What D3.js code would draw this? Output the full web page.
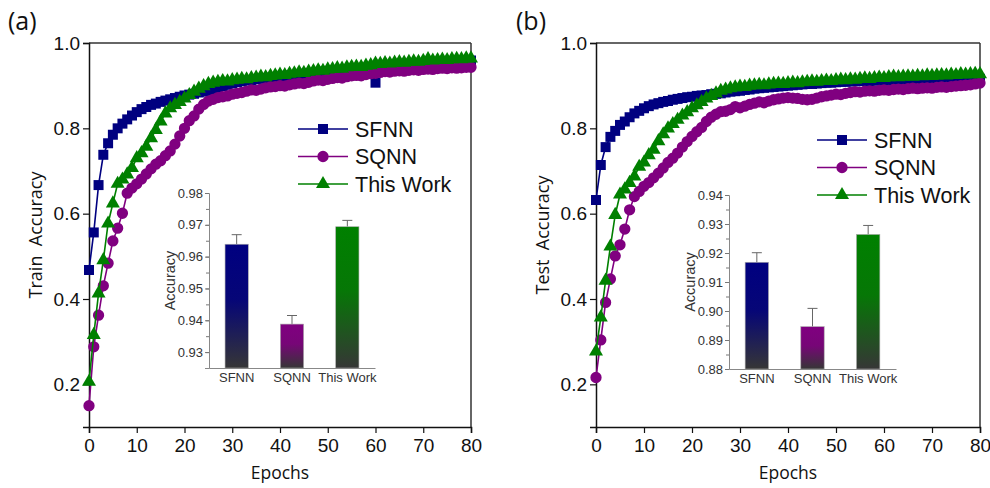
<!DOCTYPE html>
<html><head><meta charset="utf-8">
<script src="https://cdn.jsdelivr.net/npm/d3@7"></script>
<style>
html,body{margin:0;padding:0;background:#fff;}
svg{display:block;font-family:Arial,"Liberation Sans",sans-serif;}
</style></head>
<body>
<svg id="chart" width="990" height="488"></svg>
<script>
// ---------------- DATA ----------------
const epochs = d3.range(0, 81);
const seriesNames = ["SFNN", "SQNN", "This Work"];
const seriesColors = ["#000080", "#800080", "#008000"];
const xTicks = [0, 10, 20, 30, 40, 50, 60, 70, 80];
const yTicks = [0.2, 0.4, 0.6, 0.8, 1.0];

const trainSFNN = [0.468,0.556,0.667,0.738,0.765,0.785,0.800,0.811,0.821,0.830,0.838,0.845,0.850,0.855,0.858,0.862,0.865,0.868,0.871,0.874,0.877,0.879,0.881,0.884,0.886,0.888,0.891,0.895,0.899,0.902,0.905,0.908,0.910,0.912,0.913,0.915,0.916,0.918,0.919,0.920,0.921,0.923,0.924,0.925,0.926,0.928,0.929,0.930,0.931,0.933,0.934,0.935,0.936,0.937,0.938,0.939,0.940,0.941,0.942,0.943,0.907,0.945,0.946,0.947,0.948,0.949,0.950,0.951,0.952,0.952,0.953,0.954,0.955,0.955,0.956,0.957,0.957,0.958,0.958,0.959,0.959];
const trainSQNN = [0.150,0.288,0.362,0.431,0.484,0.536,0.566,0.601,0.648,0.660,0.670,0.681,0.693,0.705,0.716,0.724,0.736,0.747,0.763,0.782,0.800,0.818,0.829,0.845,0.856,0.864,0.868,0.872,0.874,0.876,0.880,0.882,0.884,0.887,0.890,0.889,0.892,0.895,0.897,0.898,0.900,0.899,0.902,0.904,0.906,0.905,0.908,0.911,0.913,0.912,0.915,0.917,0.919,0.918,0.921,0.923,0.924,0.923,0.926,0.928,0.929,0.931,0.933,0.932,0.934,0.935,0.934,0.936,0.937,0.936,0.938,0.939,0.938,0.940,0.941,0.940,0.942,0.941,0.942,0.943,0.943];
const trainOurs = [0.206,0.316,0.413,0.491,0.577,0.624,0.670,0.680,0.692,0.707,0.730,0.742,0.757,0.777,0.796,0.816,0.835,0.847,0.855,0.862,0.870,0.878,0.886,0.893,0.899,0.904,0.907,0.909,0.911,0.910,0.913,0.914,0.916,0.915,0.918,0.919,0.921,0.920,0.923,0.924,0.926,0.925,0.928,0.929,0.931,0.930,0.933,0.934,0.936,0.935,0.938,0.939,0.941,0.940,0.943,0.944,0.945,0.944,0.947,0.948,0.952,0.951,0.953,0.952,0.954,0.955,0.954,0.956,0.957,0.956,0.958,0.962,0.959,0.960,0.961,0.960,0.962,0.963,0.962,0.964,0.964];

const testSFNN = [0.632,0.714,0.756,0.780,0.794,0.808,0.816,0.826,0.835,0.841,0.847,0.852,0.856,0.859,0.862,0.864,0.867,0.869,0.871,0.873,0.874,0.876,0.877,0.878,0.880,0.881,0.882,0.884,0.886,0.887,0.888,0.890,0.891,0.893,0.894,0.895,0.896,0.897,0.898,0.899,0.900,0.901,0.902,0.903,0.904,0.904,0.905,0.906,0.907,0.907,0.908,0.909,0.909,0.910,0.910,0.911,0.911,0.911,0.912,0.912,0.912,0.912,0.913,0.913,0.913,0.913,0.913,0.914,0.914,0.914,0.914,0.914,0.915,0.915,0.915,0.915,0.915,0.915,0.916,0.916,0.916];
const testSQNN = [0.216,0.304,0.392,0.447,0.501,0.527,0.564,0.609,0.640,0.652,0.664,0.673,0.684,0.695,0.707,0.720,0.730,0.742,0.756,0.769,0.781,0.792,0.802,0.816,0.826,0.833,0.839,0.840,0.844,0.851,0.848,0.852,0.856,0.859,0.862,0.860,0.864,0.867,0.869,0.871,0.872,0.871,0.870,0.868,0.867,0.868,0.871,0.874,0.876,0.878,0.880,0.879,0.882,0.884,0.886,0.885,0.887,0.888,0.887,0.889,0.890,0.889,0.891,0.892,0.891,0.893,0.894,0.893,0.894,0.895,0.894,0.896,0.897,0.896,0.898,0.899,0.900,0.901,0.902,0.904,0.906];
const testOurs = [0.277,0.357,0.443,0.523,0.597,0.645,0.657,0.672,0.687,0.710,0.720,0.737,0.750,0.770,0.786,0.800,0.810,0.820,0.830,0.838,0.847,0.854,0.862,0.870,0.876,0.882,0.888,0.891,0.894,0.896,0.898,0.897,0.900,0.901,0.902,0.901,0.903,0.904,0.905,0.904,0.906,0.907,0.906,0.908,0.909,0.910,0.909,0.911,0.912,0.911,0.913,0.914,0.913,0.915,0.914,0.916,0.917,0.916,0.918,0.919,0.918,0.920,0.921,0.920,0.921,0.922,0.921,0.923,0.922,0.924,0.923,0.924,0.925,0.924,0.926,0.925,0.927,0.926,0.927,0.928,0.927];

const insetTrainValues = [0.9639, 0.9388, 0.9694];
const insetTrainErrors = [0.0030, 0.0027, 0.0020];
const insetTrainTicks = [0.93, 0.94, 0.95, 0.96, 0.97, 0.98];
const insetTestValues = [0.9168, 0.8946, 0.9264];
const insetTestErrors = [0.0033, 0.0063, 0.0031];
const insetTestTicks = [0.88, 0.89, 0.90, 0.91, 0.92, 0.93, 0.94];

// ---------------- DRAW ----------------
const svg = d3.select("#chart");
const defs = svg.append("defs");
seriesColors.forEach((c, i) => {
  const g = defs.append("linearGradient").attr("id", "grad" + i)
    .attr("x1", 0).attr("y1", 0).attr("x2", 0).attr("y2", 1);
  g.append("stop").attr("offset", "0%").attr("stop-color", c);
  g.append("stop").attr("offset", "45%").attr("stop-color", d3.interpolateRgb(c, "#333333")(0.12));
  g.append("stop").attr("offset", "100%").attr("stop-color", "#363636");
});

const symbols = [d3.symbolSquare, d3.symbolCircle, d3.symbolTriangle];
const symSizes = [100, 100, 85];
const titleFont = "'Open Sans', Arial, sans-serif";

function drawPanel(cfg) {
  const x = d3.scaleLinear().domain([0, 80]).range([cfg.x0, cfg.x1]);
  const y = d3.scaleLinear().domain([0.1, 1.0]).range([cfg.y1, cfg.y0]);
  const g = svg.append("g");

  // frame top/right
  g.append("line").attr("x1", cfg.x0).attr("x2", cfg.x1).attr("y1", cfg.y0).attr("y2", cfg.y0)
    .attr("stroke", "#333").attr("stroke-width", 1.5);
  g.append("line").attr("x1", cfg.x1).attr("x2", cfg.x1).attr("y1", cfg.y0).attr("y2", cfg.y1)
    .attr("stroke", "#333").attr("stroke-width", 1.5);

  const xAxis = g.append("g").attr("transform", `translate(0,${cfg.y1})`)
    .call(d3.axisBottom(x).tickValues(xTicks).tickFormat(d3.format("d")).tickSize(6).tickPadding(4));
  const yAxis = g.append("g").attr("transform", `translate(${cfg.x0},0)`)
    .call(d3.axisLeft(y).tickValues(yTicks).tickFormat(d3.format(".1f")).tickSize(6).tickPadding(3));
  [xAxis, yAxis].forEach(a => {
    a.select(".domain").attr("stroke", "#111").attr("stroke-width", 1.5);
    a.selectAll(".tick line").attr("stroke", "#111").attr("stroke-width", 1.2);
    a.selectAll("text").attr("font-size", 19).attr("fill", "#111").attr("font-family", "Arial, 'Liberation Sans', sans-serif");
  });
  xAxis.selectAll("text").attr("dy", "0.8em");

  // titles
  g.append("text").attr("x", (cfg.x0 + cfg.x1) / 2).attr("y", cfg.y1 + 52)
    .attr("text-anchor", "middle").attr("font-size", 17.5).attr("font-family", titleFont).attr("fill", "#111").text("Epochs");
  g.append("text").attr("transform", `translate(${cfg.ytx},${(cfg.y0 + cfg.y1) / 2}) rotate(-90)`)
    .attr("text-anchor", "middle").attr("font-size", 18).attr("font-family", titleFont).attr("fill", "#111")
    .style("white-space", "pre").text(cfg.ytitle);
  g.append("text").attr("x", cfg.labX).attr("y", 30).attr("font-size", 25).attr("font-family", titleFont)
    .attr("fill", "#111").text(cfg.label);

  // series
  const line = d3.line().x((d, i) => x(epochs[i])).y(d => y(d));
  cfg.series.forEach((vals, si) => {
    const sg = g.append("g");
    sg.append("path").datum(vals).attr("d", line).attr("fill", "none")
      .attr("stroke", seriesColors[si]).attr("stroke-width", 1.6);
    sg.selectAll("path.m").data(vals).enter().append("path").attr("class", "m")
      .attr("transform", (d, i) => `translate(${x(epochs[i])},${y(d)})`)
      .attr("d", d3.symbol().type(symbols[si]).size(symSizes[si])())
      .attr("fill", seriesColors[si]);
  });

  // legend
  seriesNames.forEach((n, i) => {
    const ly = cfg.legY + i * 27.5;
    g.append("line").attr("x1", cfg.legX).attr("x2", cfg.legX + 50).attr("y1", ly).attr("y2", ly)
      .attr("stroke", seriesColors[i]).attr("stroke-width", 1.6);
    g.append("path").attr("transform", `translate(${cfg.legX + 25},${ly})`)
      .attr("d", d3.symbol().type(symbols[i]).size(symSizes[i])()).attr("fill", seriesColors[i]);
    g.append("text").attr("x", cfg.legX + 57).attr("y", ly).attr("dy", "0.36em")
      .attr("font-size", 21.5).attr("fill", "#111").text(n);
  });

  // inset
  const ins = cfg.inset;
  const bx = d3.scaleBand().domain(seriesNames).range([ins.x0, ins.x1]).paddingInner(0.58).paddingOuter(0.29);
  const by = d3.scaleLinear().domain(ins.domain).range([ins.y1, ins.y0]);
  const ig = g.append("g");
  ins.values.forEach((v, i) => {
    const cx = bx(seriesNames[i]) + bx.bandwidth() / 2;
    ig.append("line").attr("x1", cx).attr("x2", cx).attr("y1", by(v)).attr("y2", by(v + ins.errors[i]))
      .attr("stroke", "#666").attr("stroke-width", 1);
    ig.append("line").attr("x1", cx - 5).attr("x2", cx + 5).attr("y1", by(v + ins.errors[i])).attr("y2", by(v + ins.errors[i]))
      .attr("stroke", "#666").attr("stroke-width", 1);
    ig.append("rect").attr("x", bx(seriesNames[i])).attr("width", bx.bandwidth())
      .attr("y", by(v)).attr("height", by(ins.domain[0]) - by(v))
      .attr("fill", `url(#grad${i})`).attr("stroke", "#aaa").attr("stroke-width", 0.6);
  });
  const minor = d3.range(0, Math.round((ins.domain[1] - ins.domain[0]) / 0.005) + 1).map(k => ins.domain[0] + k * 0.005);
  const iyMinor = ig.append("g").attr("transform", `translate(${ins.x0},0)`)
    .call(d3.axisLeft(by).tickValues(minor).tickFormat("").tickSize(3));
  iyMinor.select(".domain").remove();
  iyMinor.selectAll(".tick line").attr("stroke", "#777");
  const iy = ig.append("g").attr("transform", `translate(${ins.x0},0)`)
    .call(d3.axisLeft(by).tickValues(ins.ticks).tickFormat(d3.format(".2f")).tickSize(4).tickPadding(2));
  const ix = ig.append("g").attr("transform", `translate(0,${ins.y1})`)
    .call(d3.axisBottom(bx).tickSize(0).tickPadding(5));
  [iy, ix].forEach(a => {
    a.select(".domain").attr("stroke", "#888").attr("stroke-width", 1);
    a.selectAll(".tick line").attr("stroke", "#777");
    a.selectAll("text").attr("font-size", 13).attr("fill", "#333").attr("font-family", "Arial, 'Liberation Sans', sans-serif");
  });
  ig.append("text").attr("transform", `translate(${ins.tx},${(ins.y0 + ins.y1) / 2}) rotate(-90)`)
    .attr("text-anchor", "middle").attr("font-size", 14.5).attr("fill", "#333").text("Accuracy");
}

drawPanel({
  x0: 89, x1: 471, y0: 43, y1: 427, ytx: 42, ytitle: "Train  Accuracy", label: "(a)", labX: 8,
  series: [trainSFNN, trainSQNN, trainOurs], legX: 298, legY: 129,
  inset: { x0: 209, x1: 375, y0: 193, y1: 368, domain: [0.925, 0.98], ticks: insetTrainTicks,
           values: insetTrainValues, errors: insetTrainErrors, tx: 175 }
});
drawPanel({
  x0: 596, x1: 980, y0: 43, y1: 427, ytx: 549, ytitle: "Test  Accuracy", label: "(b)", labX: 516,
  series: [testSFNN, testSQNN, testOurs], legX: 817, legY: 140,
  inset: { x0: 729, x1: 896, y0: 195, y1: 369, domain: [0.88, 0.94], ticks: insetTestTicks,
           values: insetTestValues, errors: insetTestErrors, tx: 695 }
});
</script>
</body></html>
